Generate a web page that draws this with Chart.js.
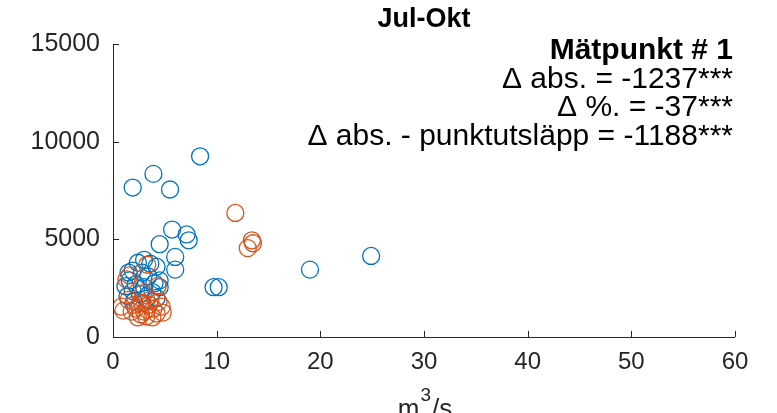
<!DOCTYPE html>
<html>
<head>
<meta charset="utf-8">
<script src="https://cdn.jsdelivr.net/npm/chart.js@4/dist/chart.umd.min.js"></script>
<style>
  html, body { margin: 0; padding: 0; background: #fff; }
  #wrap { width: 777px; height: 413px; }
</style>
</head>
<body>
<div id="wrap"><canvas id="chart" width="777" height="413"></canvas></div>
<script>
// Data
const blueX = [8.4, 3.9, 1.9, 5.5, 5.7, 7.1, 7.3, 4.5, 6.0, 6.0, 9.7, 10.2, 19.0, 24.9,
               2.4, 3.6, 4.2, 1.9, 2.8, 3.4, 4.5, 1.6, 1.2, 2.2, 3.0, 4.5, 1.9, 2.6, 3.8, 4.2, 1.4, 3.2, 2.0,
               3.0, 1.5, 4.0];
const blueY = [9250, 8350, 7650, 7550, 5500, 5250, 4950, 4750, 4100, 3450, 2550, 2550, 3450, 4150,
               3800, 3750, 3600, 3400, 3300, 3100, 2900, 2900, 2600, 2700, 2550, 2550, 2350, 2200, 2300, 2000, 2100, 1950, 1800,
               3950, 3300, 2750];
const orangeX = [11.8, 13.4, 13.5, 13.0, 3.3, 1.6, 1.3, 4.3, 2.9, 0.8, 1.0, 2.6, 3.2, 3.9, 4.7,
                 2.2, 3.0, 3.5, 2.7, 4.2, 3.6, 1.8, 2.4, 4.8, 3.3, 2.0, 3.8, 4.4, 1.5, 2.8];
const orangeY = [6350, 4950, 4800, 4550, 3700, 3150, 2950, 2600, 2250, 1550, 1350, 1700, 1050, 1450, 1550,
                 1450, 1300, 1650, 1150, 1200, 1900, 1300, 1000, 1250, 1400, 1650, 1000, 1800, 1900, 1750];
const xTicks = [0, 10, 20, 30, 40, 50, 60];
const yTicks = [0, 5000, 10000, 15000];

const titleText = 'Jul-Okt';
const noteLines = ['Mätpunkt # 1', 'Δ abs. = -1237***', 'Δ %. = -37***', 'Δ abs. - punktutsläpp = -1188***'];

const axisColor = '#262626';
const fontFam = '"Liberation Sans", Arial, Helvetica, sans-serif';

function toPoints(xs, ys) {
    return xs.map((x, i) => ({ x: x, y: ys[i] }));
}

// axes, inward ticks and texts
const decorations = {
    id: 'decorations',
    afterDraw(chart) {
        const ctx = chart.ctx;
        const area = chart.chartArea;
        const xs = chart.scales.x;
        const ys = chart.scales.y;
        ctx.save();
        ctx.strokeStyle = axisColor;
        ctx.lineWidth = 1;
        ctx.beginPath();
        ctx.moveTo(area.left + 0.5, area.top);
        ctx.lineTo(area.left + 0.5, area.bottom + 0.5);
        ctx.lineTo(area.right, area.bottom + 0.5);
        xTicks.forEach(v => {
            const px = Math.round(xs.getPixelForValue(v)) + 0.5;
            ctx.moveTo(px, area.bottom);
            ctx.lineTo(px, area.bottom - 6);
        });
        yTicks.forEach(v => {
            const py = Math.round(ys.getPixelForValue(v)) + 0.5;
            ctx.moveTo(area.left, py);
            ctx.lineTo(area.left + 6, py);
        });
        ctx.stroke();

        // title
        ctx.fillStyle = '#000';
        ctx.textAlign = 'center';
        ctx.textBaseline = 'alphabetic';
        ctx.font = 'bold 27px ' + fontFam;
        ctx.fillText(titleText, (area.left + area.right) / 2, 27);

        // notes, right aligned
        ctx.textAlign = 'right';
        noteLines.forEach((line, i) => {
            ctx.font = (i === 0 ? 'bold ' : '') + '30px ' + fontFam;
            ctx.fillText(line, area.right - 2, 59 + i * 28.5);
        });

        // x axis label m^3/s, cut by the bottom edge
        ctx.fillStyle = axisColor;
        ctx.textAlign = 'left';
        ctx.font = '26px ' + fontFam;
        const cx = (area.left + area.right) / 2;
        const wM = ctx.measureText('m').width;
        ctx.font = '19px ' + fontFam;
        const w3 = ctx.measureText('3').width;
        ctx.font = '26px ' + fontFam;
        const wS = ctx.measureText('/s').width;
        const x0 = cx - (wM + w3 + wS) / 2;
        const base = 417;
        ctx.fillText('m', x0, base);
        ctx.font = '19px ' + fontFam;
        ctx.fillText('3', x0 + wM + 1, base - 16);
        ctx.font = '26px ' + fontFam;
        ctx.fillText('/s', x0 + wM + w3 + 2, base);
        ctx.restore();
    }
};

const ctx = document.getElementById('chart').getContext('2d');
const chart = new Chart(ctx, {
    type: 'scatter',
    data: {
        datasets: [{
            label: 'blue',
            data: toPoints(blueX, blueY),
            borderColor: '#0072BD',
            backgroundColor: 'rgba(0,0,0,0)',
            pointRadius: 8.5,
            pointBorderWidth: 1.3,
            order: 1
        }, {
            label: 'orange',
            data: toPoints(orangeX, orangeY),
            borderColor: '#D95319',
            backgroundColor: 'rgba(0,0,0,0)',
            pointRadius: 8.5,
            pointBorderWidth: 1.3,
            order: 0
        }]
    },
    options: {
        responsive: false,
        animation: false,
        layout: { padding: { top: 44, right: 42, left: 0, bottom: 0 } },
        plugins: {
            legend: { display: false },
            tooltip: { enabled: false }
        },
        scales: {
            x: {
                type: 'linear',
                min: 0,
                max: 60,
                afterBuildTicks: s => { s.ticks = xTicks.map(v => ({ value: v })); },
                afterFit: s => { s.height = 76; },
                grid: { display: false, drawTicks: false },
                border: { display: false },
                ticks: {
                    padding: 11,
                    color: axisColor,
                    font: { family: fontFam, size: 24 },
                    callback: v => String(v)
                }
            },
            y: {
                type: 'linear',
                min: 0,
                max: 15000,
                afterBuildTicks: s => { s.ticks = yTicks.map(v => ({ value: v })); },
                afterFit: s => { s.width = 113; },
                grid: { display: false, drawTicks: false },
                border: { display: false },
                ticks: {
                    padding: 13,
                    color: axisColor,
                    font: { family: fontFam, size: 25 },
                    callback: v => String(v)
                }
            }
        }
    },
    plugins: [decorations]
});
</script>
</body>
</html>
